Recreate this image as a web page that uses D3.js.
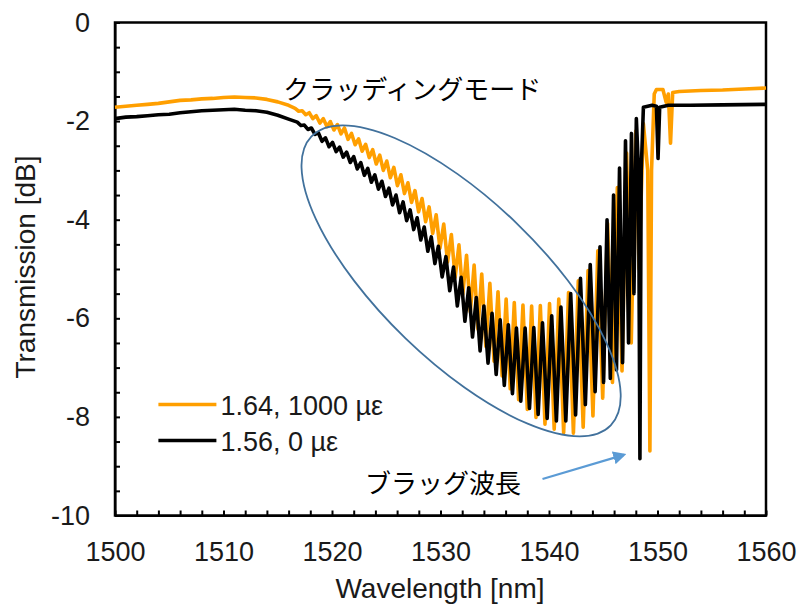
<!DOCTYPE html>
<html>
<head>
<meta charset="utf-8">
<script src="https://cdn.jsdelivr.net/npm/d3@7"></script>
<style>
  body { margin: 0; background: #fff; }
  svg { display: block; font-family: "Liberation Sans", Arial, sans-serif; }
</style>
</head>
<body>
<script>
// values
const xTicks = [1500, 1510, 1520, 1530, 1540, 1550, 1560];
const yTicks = [0, -2, -4, -6, -8, -10];
const seriesNames = ["1.64, 1000 µε", "1.56, 0 µε"];
const seriesColors = ["#ff9f00", "#000000"];
const notes = ["クラッディングモード", "ブラッグ波長"];

// 1.64, 1000 µε  [wavelength nm, transmission dB]
const orange164 = [
  [1500,-1.72],[1501,-1.70],[1502,-1.68],[1503,-1.66],[1504,-1.64],[1505,-1.61],[1506,-1.58],
  [1507,-1.57],[1508,-1.55],[1509,-1.54],[1510,-1.52],[1511,-1.51],[1512,-1.52],[1513,-1.53],
  [1514,-1.56],[1515,-1.61],[1516,-1.68],
  [1516.6,-1.74],[1516.93,-1.80],[1517.25,-1.79],[1517.58,-1.87],[1517.9,-1.83],[1518.23,-1.95],
  [1518.55,-1.89],[1518.88,-2.04],[1519.2,-1.95],[1519.53,-2.11],[1519.85,-2.01],[1520.18,-2.18],
  [1520.5,-2.07],[1520.83,-2.26],[1521.15,-2.14],[1521.48,-2.37],[1521.8,-2.25],[1522.13,-2.48],
  [1522.45,-2.36],[1522.78,-2.61],[1523.1,-2.47],[1523.43,-2.74],[1523.75,-2.58],[1524.08,-2.87],
  [1524.4,-2.69],[1524.73,-3.00],[1525.05,-2.81],[1525.38,-3.15],[1525.7,-2.94],[1526.03,-3.31],
  [1526.35,-3.09],[1526.68,-3.47],[1527.0,-3.25],[1527.33,-3.65],[1527.65,-3.41],[1527.98,-3.84],
  [1528.3,-3.57],[1528.63,-4.04],[1528.95,-3.74],[1529.28,-4.28],[1529.6,-3.90],[1529.95,-4.58],
  [1530.3,-4.09],[1530.65,-4.86],[1531.0,-4.30],[1531.35,-5.17],[1531.7,-4.51],[1532.05,-5.52],
  [1532.4,-4.72],[1532.75,-5.87],[1533.1,-4.92],[1533.45,-6.22],[1533.8,-5.10],[1534.18,-6.57],
  [1534.55,-5.29],[1534.93,-6.87],[1535.3,-5.46],[1535.68,-7.17],[1536.05,-5.61],[1536.43,-7.43],
  [1536.8,-5.68],[1537.2,-7.65],[1537.6,-5.73],[1538.0,-7.85],[1538.4,-5.75],[1538.8,-8.01],
  [1539.2,-5.74],[1539.63,-8.15],[1540.05,-5.70],[1540.48,-8.25],[1540.9,-5.61],[1541.35,-8.32],
  [1541.8,-5.48],[1542.25,-8.33],[1542.7,-5.24],[1543.15,-8.21],[1543.6,-5.03],[1544.05,-7.98],
  [1544.5,-4.63],[1544.95,-7.62],[1545.4,-4.08],[1545.85,-7.30],[1546.3,-3.35],[1546.73,-7.07],
  [1547.15,-2.65],[1547.58,-6.50],[1548.0,-2.20],[1548.3,-5.00],[1548.7,-2.05],[1549.1,-3.00],
  [1549.3,-8.69],[1549.45,-3.00],[1549.7,-1.45],[1549.9,-1.36],[1550.5,-1.36],[1550.8,-1.62],
  [1551.0,-1.45],[1551.2,-2.45],[1551.4,-1.42],[1552,-1.40],[1554,-1.38],[1556,-1.37],
  [1558,-1.35],[1560,-1.33]
];

// 1.56, 0 µε
const black156 = [
  [1500,-1.95],[1501,-1.92],[1502,-1.91],[1503,-1.89],[1504,-1.87],[1505,-1.86],[1506,-1.83],
  [1507,-1.81],[1508,-1.79],[1509,-1.78],[1510,-1.77],[1511,-1.76],[1512,-1.78],[1513,-1.79],
  [1514,-1.82],[1515,-1.88],[1516,-1.96],
  [1516.8,-2.02],[1517.13,-2.09],[1517.45,-2.08],[1517.78,-2.17],[1518.1,-2.14],[1518.43,-2.27],
  [1518.75,-2.24],[1519.08,-2.41],[1519.4,-2.34],[1519.73,-2.52],[1520.05,-2.43],[1520.38,-2.62],
  [1520.7,-2.53],[1521.03,-2.73],[1521.35,-2.63],[1521.68,-2.84],[1522.0,-2.72],[1522.33,-2.97],
  [1522.65,-2.84],[1522.98,-3.10],[1523.3,-2.96],[1523.63,-3.24],[1523.95,-3.09],[1524.28,-3.38],
  [1524.6,-3.22],[1524.93,-3.53],[1525.25,-3.36],[1525.58,-3.70],[1525.9,-3.50],[1526.23,-3.86],
  [1526.55,-3.64],[1526.88,-4.02],[1527.2,-3.80],[1527.53,-4.20],[1527.85,-3.96],[1528.18,-4.41],
  [1528.5,-4.15],[1528.83,-4.64],[1529.15,-4.35],[1529.48,-4.89],[1529.8,-4.54],[1530.15,-5.16],
  [1530.5,-4.75],[1530.85,-5.44],[1531.2,-4.96],[1531.55,-5.75],[1531.9,-5.17],[1532.25,-6.06],
  [1532.6,-5.38],[1532.95,-6.38],[1533.3,-5.58],[1533.65,-6.66],[1534.0,-5.75],[1534.38,-6.91],
  [1534.75,-5.90],[1535.13,-7.14],[1535.5,-6.03],[1535.88,-7.36],[1536.25,-6.13],[1536.63,-7.53],
  [1537.0,-6.20],[1537.4,-7.68],[1537.8,-6.20],[1538.2,-7.83],[1538.6,-6.19],[1539.0,-7.95],
  [1539.4,-6.09],[1539.83,-8.03],[1540.25,-5.95],[1540.68,-8.08],[1541.1,-5.77],[1541.55,-8.08],
  [1542.0,-5.50],[1542.45,-7.96],[1542.9,-5.19],[1543.35,-7.75],[1543.8,-4.91],[1544.25,-7.49],
  [1544.7,-4.55],[1545.03,-7.30],[1545.35,-4.00],[1545.65,-7.22],[1545.95,-3.50],[1546.22,-7.05],
  [1546.5,-2.95],[1546.78,-6.90],[1547.05,-2.40],[1547.33,-6.50],[1547.6,-2.25],[1547.83,-5.50],
  [1548.05,-1.95],[1548.25,-3.00],[1548.38,-8.85],[1548.5,-3.00],[1548.7,-1.72],[1549.5,-1.68],
  [1549.9,-1.70],[1550.05,-2.76],[1550.2,-1.72],[1551,-1.68],[1553,-1.68],[1556,-1.67],
  [1560,-1.66]
];

const width = 801, height = 606;
const margin = { top: 22.5, right: 35, bottom: 90.5, left: 115 };
const plotW = width - margin.left - margin.right;
const plotH = height - margin.top - margin.bottom;

const svg = d3.select("body").append("svg")
  .attr("width", width)
  .attr("height", height);

const g = svg.append("g")
  .attr("transform", `translate(${margin.left},${margin.top})`);

const x = d3.scaleLinear().domain([1500, 1560]).range([0, plotW]);
const y = d3.scaleLinear().domain([-10, 0]).range([plotH, 0]);

// axes: ticks point inward, labels only on majors
const xAxis = d3.axisBottom(x)
  .tickValues(d3.range(1500, 1561, 2))
  .tickFormat(d => xTicks.includes(d) ? d : "")
  .tickSizeInner(-5).tickSizeOuter(0).tickPadding(26);
const yAxis = d3.axisLeft(y)
  .tickValues(d3.range(-10, 0.01, 0.5))
  .tickFormat(d => yTicks.includes(d) ? d : "")
  .tickSizeInner(-5).tickSizeOuter(0).tickPadding(25);

const gx = g.append("g").attr("transform", `translate(0,${plotH})`).call(xAxis);
const gy = g.append("g").call(yAxis);
[gx, gy].forEach(a => {
  a.selectAll("path, line").attr("stroke", "#000").attr("stroke-width", 2);
  a.selectAll("text")
    .attr("fill", "#1a1a1a")
    .style("font-size", "27px")
    .style("font-family", "'Liberation Sans', Arial, sans-serif");
});
gy.selectAll("text").text(d => yTicks.includes(d) ? (d < 0 ? "-" + Math.abs(d) : d) : "");

// frame
g.append("rect")
  .attr("width", plotW).attr("height", plotH)
  .attr("fill", "none").attr("stroke", "#000").attr("stroke-width", 2.5);

// curves
const line = d3.line().x(d => x(d[0])).y(d => y(d[1]));
const curves = g.append("g").attr("class", "curves");
[orange164, black156].forEach((s, i) => {
  curves.append("path")
    .datum(s)
    .attr("d", line)
    .attr("fill", "none")
    .attr("stroke", seriesColors[i])
    .attr("stroke-width", 3.6)
    .attr("stroke-linejoin", "round");
});

// ellipse round the cladding-mode dips
g.append("ellipse")
  .attr("transform", `translate(${x(1531.9)},${y(-5.24)}) rotate(44)`)
  .attr("rx", 208).attr("ry", 80)
  .attr("fill", "none")
  .attr("stroke", "#41719c")
  .attr("stroke-width", 1.8);

// arrow to the Bragg dip
svg.append("defs").append("marker")
  .attr("id", "arrowhead-blue")
  .attr("viewBox", "0 0 10 10")
  .attr("refX", 8).attr("refY", 5)
  .attr("markerWidth", 6).attr("markerHeight", 6)
  .attr("orient", "auto")
  .append("path")
  .attr("d", "M0,0 L10,5 L0,10 Z")
  .attr("fill", "#5b9bd5");

g.append("line")
  .attr("x1", x(1539.4)).attr("y1", y(-9.26))
  .attr("x2", x(1546.9)).attr("y2", y(-8.77))
  .attr("stroke", "#5b9bd5").attr("stroke-width", 2.2)
  .attr("marker-end", "url(#arrowhead-blue)");

// annotations
const jp = "'Noto Sans CJK JP', sans-serif";
g.append("text")
  .attr("x", x(1515.5)).attr("y", y(-1.32))
  .attr("dominant-baseline", "central")
  .style("font-family", jp).style("font-size", "26px")
  .text(notes[0]);
g.append("text")
  .attr("x", x(1523.05)).attr("y", y(-9.32))
  .attr("dominant-baseline", "central")
  .style("font-family", jp).style("font-size", "26px")
  .text(notes[1]);

// legend
const legend = g.append("g").attr("transform", `translate(${x(1504)},${y(-7.75)})`);
seriesNames.forEach((name, i) => {
  const row = legend.append("g").attr("transform", `translate(0,${i * 36})`);
  row.append("line")
    .attr("x1", 0).attr("x2", 58)
    .attr("stroke", seriesColors[i]).attr("stroke-width", 3.5);
  row.append("text")
    .attr("x", 62).attr("y", 10)
    .attr("fill", "#1a1a1a")
    .style("font-size", "27px")
    .text(name);
});

// axis titles
svg.append("text")
  .attr("x", 440).attr("y", 598)
  .attr("text-anchor", "middle")
  .attr("fill", "#1a1a1a")
  .style("font-size", "28px")
  .text("Wavelength [nm]");
svg.append("text")
  .attr("transform", "translate(35,267) rotate(-90)")
  .attr("text-anchor", "middle")
  .attr("fill", "#1a1a1a")
  .style("font-size", "28px")
  .text("Transmission [dB]");
</script>
</body>
</html>
